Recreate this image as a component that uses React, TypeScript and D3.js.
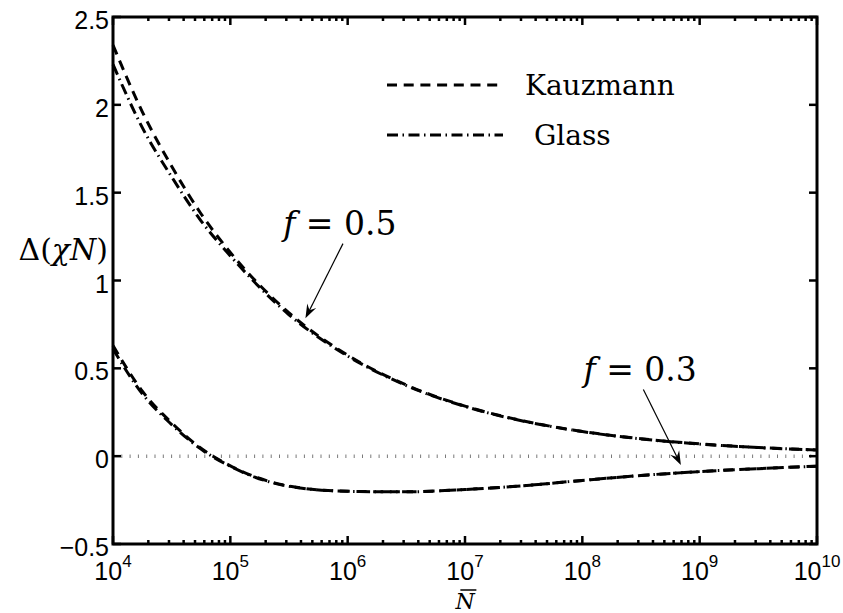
import React, { useEffect, useRef } from 'react';
import * as d3 from 'd3';

// N-bar sample points (log-spaced) and the curves
const nBar = [1e4, 1.778e4, 3.162e4, 5.623e4, 1e5, 3.162e5, 1e6, 3.162e6, 1e7, 3.162e7, 1e8, 3.162e8, 1e9, 3.162e9, 1e10];
const kauzmann05 = [2.34, 1.96, 1.65, 1.38, 1.16, 0.816, 0.575, 0.405, 0.285, 0.2, 0.141, 0.099, 0.07, 0.049, 0.035];
const glass05 = [2.23, 1.87, 1.59, 1.34, 1.14, 0.805, 0.57, 0.402, 0.283, 0.199, 0.14, 0.098, 0.069, 0.049, 0.035];
const kauzmann03 = [0.63, 0.37, 0.19, 0.045, -0.055, -0.17, -0.2, -0.203, -0.19, -0.168, -0.138, -0.11, -0.088, -0.071, -0.057];
const glass03 = [0.61, 0.355, 0.18, 0.04, -0.058, -0.172, -0.2, -0.203, -0.19, -0.168, -0.138, -0.11, -0.088, -0.071, -0.057];

const yTicks = [-0.5, 0, 0.5, 1, 1.5, 2, 2.5];
const yTickLabels = ['\u22120.5', '0', '0.5', '1', '1.5', '2', '2.5'];
const xTickExps = [4, 5, 6, 7, 8, 9, 10];
const legendLabels = ['Kauzmann', ' Glass'];

const DASHED = '10 6.7';
const DASHDOT = '11 4.5 1.5 4.5';

const App = () => {
  const svgRef = useRef(null);

  useEffect(() => {
    const W = 843;
    const H = 613;
    const margin = { top: 17, right: 26, bottom: 69, left: 113 };
    const width = W - margin.left - margin.right;
    const height = H - margin.top - margin.bottom;

    const root = d3.select(svgRef.current);
    root.selectAll('*').remove();
    root.attr('width', W).attr('height', H);

    const svg = root.append('g').attr('transform', `translate(${margin.left}, ${margin.top})`);

    const x = d3.scaleLog().domain([1e4, 1e10]).range([0, width]);
    const y = d3.scaleLinear().domain([-0.5, 2.5]).range([height, 0]);

    // zero reference line
    svg
      .append('line')
      .attr('x1', 0)
      .attr('x2', width)
      .attr('y1', y(0))
      .attr('y2', y(0))
      .attr('stroke', '#7a7a7a')
      .attr('stroke-width', 3.5)
      .attr('stroke-dasharray', '1 7.3');

    const line = d3
      .line<number>()
      .x((_, i) => x(nBar[i]))
      .y(d => y(d))
      .curve(d3.curveMonotoneX);

    const series = [
      { values: glass05, dash: DASHDOT },
      { values: kauzmann05, dash: DASHED },
      { values: glass03, dash: DASHDOT },
      { values: kauzmann03, dash: DASHED },
    ];

    series.forEach(s => {
      svg
        .append('path')
        .attr('d', line(s.values))
        .attr('fill', 'none')
        .attr('stroke', '#000')
        .attr('stroke-width', 3)
        .attr('stroke-dasharray', s.dash);
    });

    // axes box
    svg
      .append('rect')
      .attr('x', 0)
      .attr('y', 0)
      .attr('width', width)
      .attr('height', height)
      .attr('fill', 'none')
      .attr('stroke', '#000')
      .attr('stroke-width', 3);

    const sans = '"Liberation Sans", Arial, sans-serif';

    // y ticks (left and right, inward)
    yTicks.forEach((t, i) => {
      svg.append('line').attr('x1', 0).attr('x2', 8).attr('y1', y(t)).attr('y2', y(t)).attr('stroke', '#000').attr('stroke-width', 2.5);
      svg.append('line').attr('x1', width).attr('x2', width - 8).attr('y1', y(t)).attr('y2', y(t)).attr('stroke', '#000').attr('stroke-width', 2.5);
      svg
        .append('text')
        .attr('x', -4)
        .attr('y', y(t) + 12)
        .attr('text-anchor', 'end')
        .style('font-family', sans)
        .style('font-size', '25px')
        .text(yTickLabels[i]);
    });

    // x ticks: majors + minors, top and bottom
    xTickExps.forEach(e => {
      const v = Math.pow(10, e);
      svg.append('line').attr('x1', x(v)).attr('x2', x(v)).attr('y1', height).attr('y2', height - 8).attr('stroke', '#000').attr('stroke-width', 2.5);
      svg.append('line').attr('x1', x(v)).attr('x2', x(v)).attr('y1', 0).attr('y2', 8).attr('stroke', '#000').attr('stroke-width', 2.5);
      if (e < 10) {
        for (let m = 2; m < 10; m++) {
          const mv = m * v;
          svg.append('line').attr('x1', x(mv)).attr('x2', x(mv)).attr('y1', height).attr('y2', height - 4).attr('stroke', '#000').attr('stroke-width', 2.5);
          svg.append('line').attr('x1', x(mv)).attr('x2', x(mv)).attr('y1', 0).attr('y2', 4).attr('stroke', '#000').attr('stroke-width', 2.5);
        }
      }
      const label = svg
        .append('text')
        .attr('x', x(v))
        .attr('y', height + 36)
        .attr('text-anchor', 'middle')
        .style('font-family', sans)
        .style('font-size', '25px');
      label.append('tspan').text('10');
      label.append('tspan').attr('dy', -13).style('font-size', '17px').text(String(e));
    });

    // axis labels
    const serif = '"DejaVu Serif", serif';
    const yLabel = svg
      .append('text')
      .attr('x', -5)
      .attr('y', 243)
      .attr('text-anchor', 'end')
      .style('font-family', serif)
      .style('font-size', '30px');
    yLabel.append('tspan').text('\u0394(');
    yLabel.append('tspan').style('font-style', 'italic').text('\u03C7N');
    yLabel.append('tspan').text(')');

    const xLabel = svg
      .append('text')
      .attr('x', width / 2)
      .attr('y', height + 65)
      .attr('text-anchor', 'middle')
      .style('font-family', serif)
      .style('font-size', '22px')
      .style('font-style', 'italic')
      .text('N');
    const xb = (xLabel.node() as SVGTextElement).getBBox();
    svg
      .append('line')
      .attr('x1', xb.x + 6)
      .attr('x2', xb.x + xb.width + 1)
      .attr('y1', height + 46)
      .attr('y2', height + 46)
      .attr('stroke', '#000')
      .attr('stroke-width', 1.5);

    // legend
    const legendDash = [DASHED, DASHDOT];
    legendLabels.forEach((lab, i) => {
      const ly = 68 + i * 50;
      svg
        .append('line')
        .attr('x1', 274)
        .attr('x2', 390)
        .attr('y1', ly)
        .attr('y2', ly)
        .attr('stroke', '#000')
        .attr('stroke-width', 2.8)
        .attr('stroke-dasharray', legendDash[i]);
      svg
        .append('text')
        .attr('x', 412)
        .attr('y', ly + 10)
        .style('font-family', serif)
        .style('font-size', '28px')
        .style('white-space', 'pre')
        .text(lab);
    });

    // annotations with arrows
    const arrow = (x1, y1, x2, y2) => {
      const dx = x2 - x1;
      const dy = y2 - y1;
      const len = Math.sqrt(dx * dx + dy * dy);
      const ux = dx / len;
      const uy = dy / len;
      const hl = 14;
      const hw = 5;
      const bx = x2 - ux * hl;
      const by = y2 - uy * hl;
      svg
        .append('line')
        .attr('x1', x1)
        .attr('y1', y1)
        .attr('x2', x2 - ux * 6)
        .attr('y2', y2 - uy * 6)
        .attr('stroke', '#000')
        .attr('stroke-width', 1.2);
      svg
        .append('path')
        .attr(
          'd',
          `M${x2},${y2} L${bx - uy * hw},${by + ux * hw} L${x2 - ux * 9},${y2 - uy * 9} L${bx + uy * hw},${by - ux * hw} Z`
        )
        .attr('fill', '#000');
    };

    const annotations = [
      { text: '0.5', tx: 5.45, ty: 1.26, sx: 5.96, sy: 1.21, ex: 5.64, ey: 0.785 },
      { text: '0.3', tx: 8.01, ty: 0.43, sx: 8.52, sy: 0.38, ex: 8.84, ey: -0.05 },
    ];
    annotations.forEach(a => {
      const t = svg
        .append('text')
        .attr('x', x(Math.pow(10, a.tx)))
        .attr('y', y(a.ty))
        .style('font-family', serif)
        .style('font-size', '33px');
      t.append('tspan').style('font-style', 'italic').text('f');
      t.append('tspan').text(` = ${a.text}`);
      arrow(x(Math.pow(10, a.sx)), y(a.sy), x(Math.pow(10, a.ex)), y(a.ey));
    });
  }, []);

  return <svg ref={svgRef} width={843} height={613} style={{ position: 'absolute', left: 0, top: 0, background: '#fff' }}></svg>;
};

export default App;
